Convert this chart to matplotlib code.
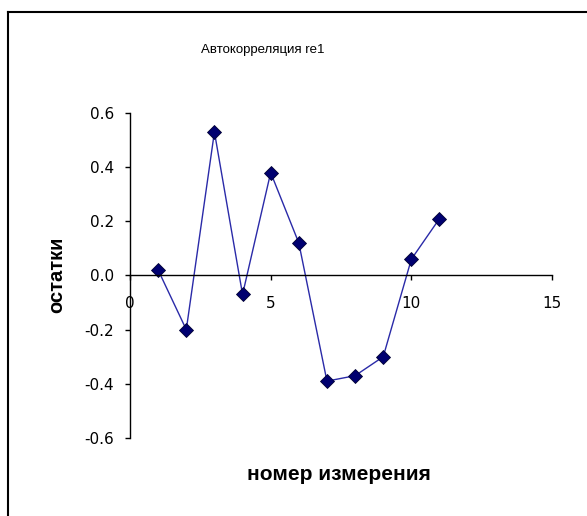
import matplotlib
matplotlib.use("Agg")
import matplotlib.pyplot as plt
from matplotlib.lines import Line2D
from matplotlib.ticker import FormatStrFormatter

plt.rcParams['font.family'] = ['Liberation Sans', 'DejaVu Sans']

nums = [1, 2, 3, 4, 5, 6, 7, 8, 9, 10, 11]
resid = [0.02, -0.20, 0.53, -0.07, 0.38, 0.12, -0.39, -0.37, -0.30, 0.06, 0.21]

x_ticks = [0, 5, 10, 15]
y_ticks = [-0.6, -0.4, -0.2, 0.0, 0.2, 0.4, 0.6]

fig = plt.figure(figsize=(5.87, 5.16), dpi=100)
ax = fig.add_axes([0.2215, 0.1512, 0.7189, 0.6298])

ax.plot(nums, resid, color='#2a2aa8', lw=1.0, marker='D', markersize=7,
        markerfacecolor='#000070', markeredgecolor='#000033', markeredgewidth=0.6)

ax.set_xlim(0, 15)
ax.set_ylim(-0.6, 0.6)
ax.set_xticks(x_ticks)
ax.set_yticks(y_ticks)
ax.yaxis.set_major_formatter(FormatStrFormatter('%.1f'))

# axes cross at zero, like the spreadsheet chart
ax.spines['left'].set_position(('data', 0))
ax.spines['bottom'].set_position(('data', 0))
ax.spines['top'].set_visible(False)
ax.spines['right'].set_visible(False)
for s in ('left', 'bottom'):
    ax.spines[s].set_linewidth(1.0)
ax.tick_params(axis='both', direction='out', length=3.6, width=1, colors='black')
ax.tick_params(axis='y', pad=8)
ax.tick_params(axis='x', pad=11)
for lab in ax.get_xticklabels() + ax.get_yticklabels():
    lab.set_fontfamily('DejaVu Sans')
    lab.set_fontsize(11)

fig.text(0.448, 0.903, 'Автокорреляция re1', ha='center', va='center', fontsize=9.5)
fig.text(0.578, 0.0698, 'номер измерения', ha='center', va='baseline', fontsize=15, fontweight='bold')
fig.text(0.097, 0.467, 'остатки', ha='center', va='center', rotation=90, fontsize=14.5, fontweight='bold')

# outer chart frame (only left and top edges are inside the picture)
fig.add_artist(Line2D([0.0136, 0.0136], [0.0, 0.9767], transform=fig.transFigure, color='black', lw=1.5))
fig.add_artist(Line2D([0.0136, 1.0], [0.9767, 0.9767], transform=fig.transFigure, color='black', lw=1.5))

fig.savefig('out.png', dpi=100)
